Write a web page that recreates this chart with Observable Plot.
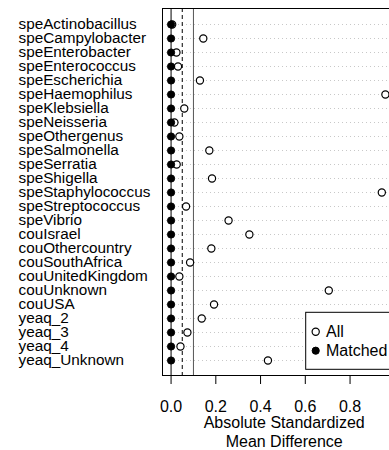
<!DOCTYPE html>
<html>
<head>
<meta charset="utf-8">
<script src="https://cdn.jsdelivr.net/npm/d3@7"></script>
<script src="https://cdn.jsdelivr.net/npm/@observablehq/plot@0.6"></script>
<style>
html, body { margin: 0; padding: 0; background: #fff; overflow: hidden; width: 389px; height: 450px; }
#chart { width: 389px; height: 450px; overflow: hidden; }
#chart svg { display: block; max-width: none !important; }
</style>
</head>
<body>
<div id="chart"></div>
<script>
const covariates = [
  "speActinobacillus", "speCampylobacter", "speEnterobacter", "speEnterococcus",
  "speEscherichia", "speHaemophilus", "speKlebsiella", "speNeisseria",
  "speOthergenus", "speSalmonella", "speSerratia", "speShigella",
  "speStaphylococcus", "speStreptococcus", "speVibrio", "couIsrael",
  "couOthercountry", "couSouthAfrica", "couUnitedKingdom", "couUnknown",
  "couUSA", "yeaq_2", "yeaq_3", "yeaq_4", "yeaq_Unknown"
];
const allSMD = [
  0.005, 0.144, 0.024, 0.031,
  0.129, 0.958, 0.059, 0.015,
  0.037, 0.171, 0.025, 0.183,
  0.942, 0.067, 0.257, 0.350,
  0.180, 0.085, 0.037, 0.705,
  0.192, 0.137, 0.073, 0.042, 0.433
];
const matchedSMD = [
  0, 0, 0, 0, 0, 0, 0, 0, 0, 0, 0, 0, 0,
  0, 0, 0, 0, 0, 0, 0, 0, 0, 0, 0, 0
];
const xTicks = [0, 0.2, 0.4, 0.6, 0.8];
const zeroLine = [0];
const dashedThreshold = [0.05];
const solidThreshold = [0.1];
const legendLabels = ["All", "Matched"];
const axisTitle = "Absolute Standardized\nMean Difference";

const allData = covariates.map((c, i) => ({covariate: c, smd: allSMD[i]}));
const matchedData = covariates.map((c, i) => ({covariate: c, smd: matchedSMD[i]}));

const FONT = "'Liberation Sans', Arial, Helvetica, sans-serif";
const FS_LAB = 15.3;
const FS = 16;

const svg = Plot.plot({
  width: 400,
  height: 450,
  marginLeft: 162,
  marginRight: 6.6,
  marginTop: 8,
  marginBottom: 75,
  style: {fontFamily: FONT, fontSize: FS + "px", background: "white", color: "black", maxWidth: "none", overflow: "visible"},
  x: {domain: [-0.0383, 0.996]},
  y: {type: "point", domain: covariates, padding: 1, axis: null},
  marks: [
    Plot.ruleY(covariates, {y: d => d, stroke: "#c8c8c8", strokeDasharray: "1,3", strokeWidth: 1}),
    Plot.ruleX(zeroLine, {stroke: "black", strokeWidth: 1}),
    Plot.ruleX(dashedThreshold, {stroke: "black", strokeDasharray: "4,3", strokeWidth: 1}),
    Plot.ruleX(solidThreshold, {stroke: "#555", strokeWidth: 1}),
    Plot.frame({stroke: "black", strokeWidth: 1}),
    Plot.dot(allData, {x: "smd", y: "covariate", r: 3.6, stroke: "black", fill: "white", strokeWidth: 1.2}),
    Plot.dot(matchedData, {x: "smd", y: "covariate", r: 3.6, stroke: "black", fill: "black", strokeWidth: 1}),
    Plot.text(covariates, {y: d => d, text: d => d, frameAnchor: "left", textAnchor: "start", dx: -144, fontSize: FS_LAB, fill: "black"}),
    Plot.axisX({ticks: xTicks, tickFormat: d3.format(".1f"), tickSize: 9, tickPadding: 16, label: null, fontSize: FS}),
    Plot.text([axisTitle], {frameAnchor: "bottom", lineAnchor: "top", dy: 39, lineHeight: 1.17, fontSize: FS, fill: "black", dx: 6})
  ]
});

// legend drawn inside the plot area (bottom-right region)
const sel = d3.select(svg);
const lg = sel.append("g").attr("font-family", FONT).attr("font-size", FS).attr("text-anchor", "start");
lg.append("rect").attr("x", 305.7).attr("y", 312.3).attr("width", 120).attr("height", 57)
  .attr("fill", "white").attr("stroke", "black").attr("stroke-width", 1);
legendLabels.forEach((lab, i) => {
  const cy = 331.7 + i * 19;
  lg.append("circle").attr("cx", 315.7).attr("cy", cy).attr("r", 3.6)
    .attr("fill", i === 0 ? "white" : "black").attr("stroke", "black").attr("stroke-width", i === 0 ? 1.2 : 1);
  lg.append("text").attr("x", 326).attr("y", cy).attr("dy", "0.36em").attr("fill", "black").attr("text-anchor", "start").text(lab);
});

document.getElementById("chart").appendChild(svg);
</script>
</body>
</html>
